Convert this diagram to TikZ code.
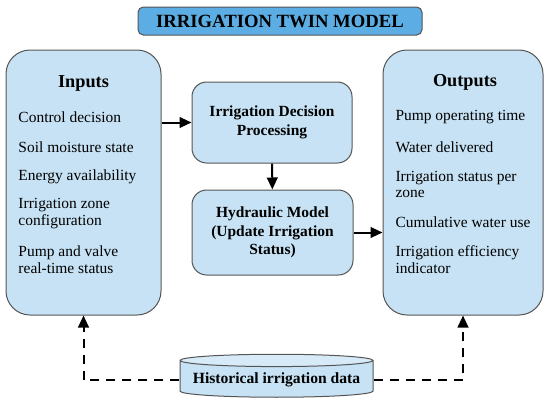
\documentclass[tikz,border=0pt]{standalone}
\usepackage{fontspec}
\setmainfont{Liberation Serif}
\usetikzlibrary{arrows.meta,shapes.geometric}

\definecolor{boxblue}{RGB}{198,226,244}
\definecolor{topblue}{RGB}{214,234,248}
\definecolor{titleblue}{RGB}{92,173,228}
\definecolor{edgegray}{RGB}{85,85,85}

\tikzset{every picture/.style={line width=0.75pt}}
\tikzset{
  panel/.style={draw=edgegray,fill=boxblue,rounded corners=18pt},
  procbox/.style={draw=edgegray,fill=boxblue,rounded corners=11pt,align=center,
    font=\fontsize{11.6}{14}\selectfont\bfseries},
  head/.style={font=\fontsize{13.7}{16}\selectfont\bfseries,inner sep=0pt},
  item/.style={anchor=west,align=left,inner sep=0pt,font=\fontsize{11.6}{12.6}\selectfont},
  flow/.style={line width=1.5pt,-{Triangle[length=9pt,width=8pt]}},
  histflow/.style={line width=1.5pt,dash pattern=on 7pt off 5pt,-{Triangle[length=9pt,width=8pt]}}
}

\begin{document}
\begin{tikzpicture}[x=0.75pt,y=0.75pt,yscale=-1,xscale=1]
\useasboundingbox (0,0) rectangle (550,408);

%Shape: Title banner
\node (title) [draw=edgegray,fill=titleblue,rounded corners=4pt,minimum width=213pt,minimum height=21pt,
  font=\fontsize{14}{16}\selectfont\bfseries] at (280,21) {IRRIGATION TWIN MODEL};

%Shape: Inputs panel
\node (inputs) [panel,minimum width=116.25pt,minimum height=198.75pt] at (83.5,182.5) {};
% Text Node
\node (inhead) [head] at (83.5,83) {Inputs};
\node (in1) [item] at (18,117) {Control decision};
\node (in2) [item] at (18,147) {Soil moisture state};
\node (in3) [item] at (18,177) {Energy availability};
\node (in4) [item] at (18,213.5) {Irrigation zone\\configuration};
\node (in5) [item] at (18,259.5) {Pump and valve\\real-time status};

%Shape: Outputs panel
\node (outputs) [panel,minimum width=120pt,minimum height=198.75pt] at (463,182.5) {};
% Text Node
\node (outhead) [head] at (465,82) {Outputs};
\node (out1) [item] at (395,117) {Pump operating time};
\node (out2) [item] at (395,147) {Water delivered};
\node (out3) [item] at (395,184.5) {Irrigation status per\\zone};
\node (out4) [item] at (395,222) {Cumulative water use};
\node (out5) [item] at (395,259.5) {Irrigation efficiency\\indicator};

%Shape: Processing boxes
\node (decision) [procbox,minimum width=120pt,minimum height=60.75pt] at (272,122.5) {Irrigation Decision\\Processing};
\node (hydraulic) [procbox,minimum width=120.75pt,minimum height=63.75pt] at (272.5,232.5) {Hydraulic Model\\(Update Irrigation\\Status)};

%Shape: Database
\node (hist) [cylinder,shape border rotate=90,aspect=0.07,draw=edgegray,cylinder uses custom fill,
  cylinder body fill=boxblue,cylinder end fill=topblue,minimum width=144.75pt,minimum height=32.25pt,
  font=\fontsize{11.7}{14}\selectfont\bfseries] at (276.5,380) {Historical irrigation data};

%Straight Lines
\draw [flow] (decision.west -| inputs.east) -- (decision.west);
\draw [flow] (decision) -- (hydraulic);
\draw [flow] (hydraulic.east) -- (hydraulic.east -| outputs.west);
\draw [histflow] (hist.west) -| (inputs.south);
\draw [histflow] (hist.east) -| (outputs.south);

\end{tikzpicture}
\end{document}
